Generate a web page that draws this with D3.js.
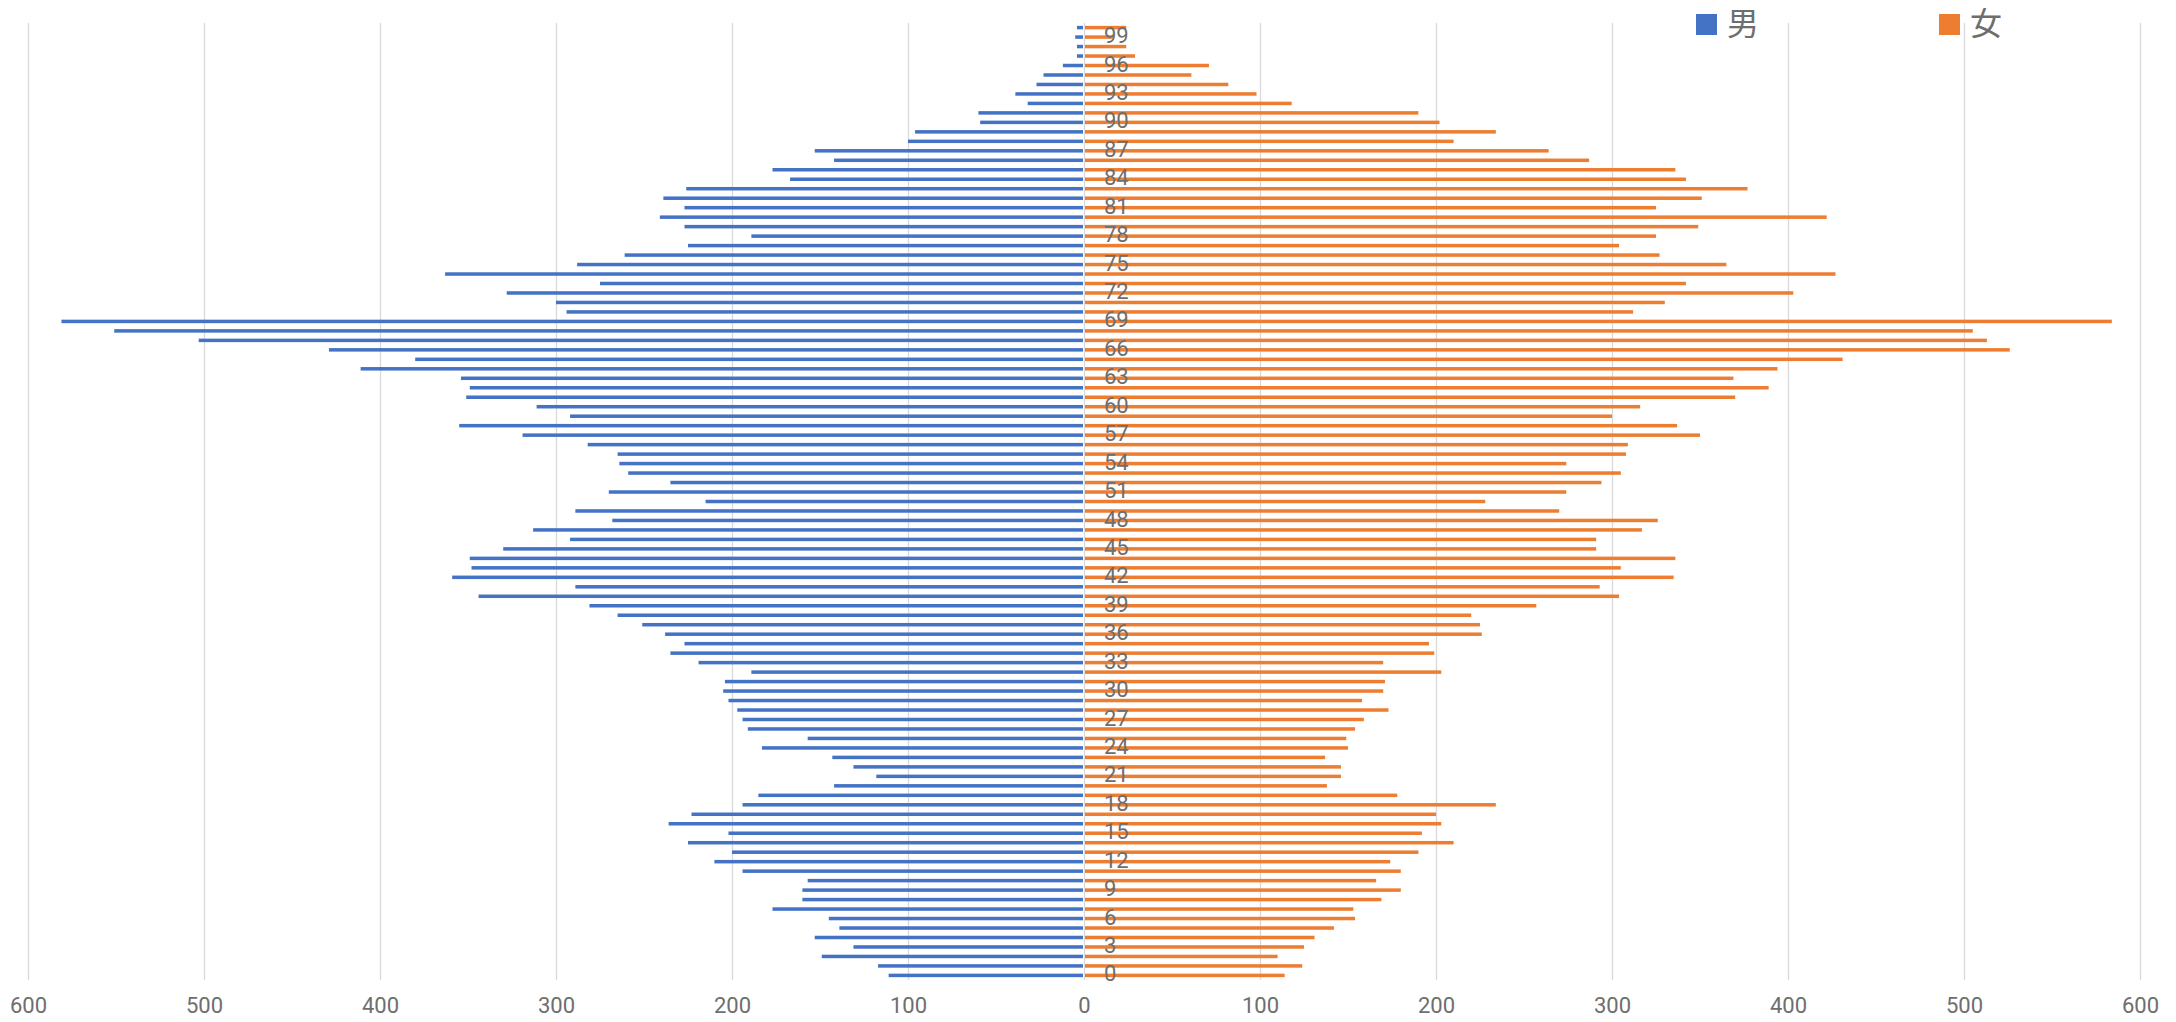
<!DOCTYPE html>
<html>
<head>
<meta charset="utf-8">
<script src="https://cdn.jsdelivr.net/npm/d3@7"></script>
<style>
  body { margin: 0; background: #fff; }
  text { font-family: "Liberation Sans Narrow", Roboto, "Noto Sans CJK JP", sans-serif; }
</style>
</head>
<body>
<div id="viz-container"></div>
<script>
// ages 0..100
let ages = d3.range(0, 101);

let male = [111,117,149,131,153,139,145,177,160,160,
            157,194,210,200,225,202,236,223,194,185,
            142,118,131,143,183,157,191,194,197,202,
            205,204,189,219,235,227,238,251,265,281,
            344,289,359,348,349,330,292,313,268,289,
            215,270,235,259,264,265,282,319,355,292,
            311,351,349,354,411,380,429,503,551,581,
            294,300,328,275,363,288,261,225,189,227,
            241,227,239,226,167,177,142,153,100,96,
            59,60,32,39,27,23,12,4,4,5,
            4];

let female = [114,124,110,125,131,142,154,153,169,180,
              166,180,174,190,210,192,203,200,234,178,
              138,146,146,137,150,149,154,159,173,158,
              170,171,203,170,199,196,226,225,220,257,
              304,293,335,305,336,291,291,317,326,270,
              228,274,294,305,274,308,309,350,337,300,
              316,370,389,369,394,431,526,513,505,584,
              312,330,403,342,427,365,327,304,325,349,
              422,325,351,377,342,336,287,264,210,234,
              202,190,118,98,82,61,71,29,24,17,
              24];

let tickVals = [-600,-500,-400,-300,-200,-100,0,100,200,300,400,500,600];
let seriesNames = ["男", "女"];
let colors = ["#4472C4", "#ED7D31"];

let w = 2176;
let h = 1022;
let plotTop = 23;
let plotBottom = 980;

let viz = d3.select("#viz-container")
            .append("svg")
                .attr("width", w)
                .attr("height", h)
;

let x = d3.scaleLinear().domain([-600, 600]).range([28, 2140]);
let y = d3.scaleBand().domain(ages.slice().reverse()).range([plotTop, plotBottom]).paddingInner(0.63).paddingOuter(0.3);

// gridlines
let grid = viz.append("g")
              .attr("transform", "translate(0," + plotBottom + ")")
              .call(d3.axisBottom(x).tickValues(tickVals).tickSize(-(plotBottom - plotTop)).tickFormat(""))
;
grid.select(".domain").remove();
grid.selectAll("line").attr("stroke", "#d9d9d9").attr("stroke-width", 1.3);

// male bars (left)
viz.append("g").selectAll("rect")
   .data(ages)
   .enter().append("rect")
      .attr("x", d => x(-male[d]))
      .attr("y", d => y(d))
      .attr("width", d => x(0) - x(-male[d]) - 1)
      .attr("height", y.bandwidth())
      .attr("fill", colors[0])
;

// female bars (right)
viz.append("g").selectAll("rect")
   .data(ages)
   .enter().append("rect")
      .attr("x", d => x(0) + 1)
      .attr("y", d => y(d))
      .attr("width", d => x(female[d]) - x(0) - 1)
      .attr("height", y.bandwidth())
      .attr("fill", colors[1])
;

// bottom axis labels
let xAxis = viz.append("g")
               .attr("transform", "translate(0," + plotBottom + ")")
               .call(d3.axisBottom(x).tickValues(tickVals).tickSize(0).tickPadding(17).tickFormat(d => Math.abs(d)))
;
xAxis.select(".domain").remove();
xAxis.selectAll("text").attr("font-size", 22).attr("fill", "#6e6e6e");

// age labels in the middle
let yAxis = viz.append("g")
               .attr("transform", "translate(" + (x(0) + 20) + ",-1)")
               .call(d3.axisRight(y).tickValues(ages.filter(d => d % 3 == 0)).tickSize(0).tickPadding(0))
;
yAxis.select(".domain").remove();
yAxis.selectAll("text").attr("font-size", 22).attr("fill", "#6e6e6e");

// legend
let legend = viz.append("g").selectAll("g")
                .data(seriesNames)
                .enter().append("g")
                   .attr("transform", (d, i) => "translate(" + (1696 + i * 243) + ",14)")
;
legend.append("rect")
      .attr("width", 21)
      .attr("height", 21)
      .attr("fill", (d, i) => colors[i])
;
legend.append("text")
      .attr("x", 31)
      .attr("y", 21)
      .attr("font-size", 32)
      .attr("fill", "#6e6e6e")
      .text(d => d)
;
</script>
</body>
</html>
